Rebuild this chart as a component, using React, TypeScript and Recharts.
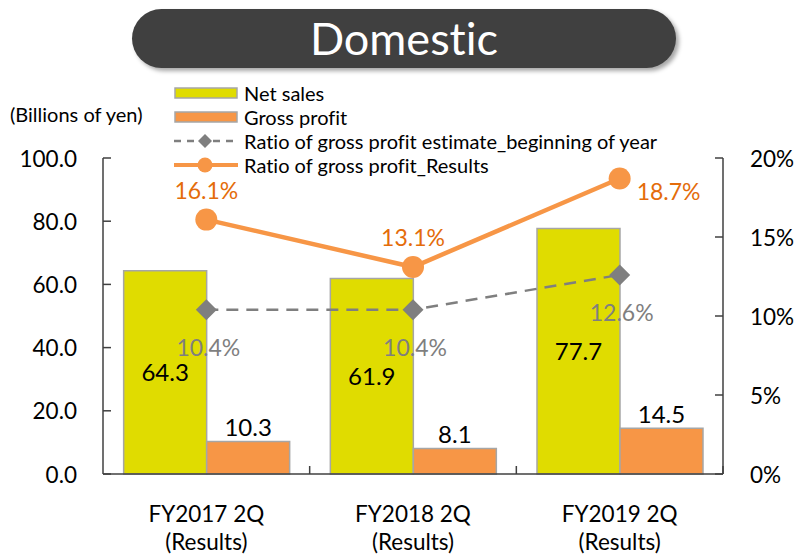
import { ComposedChart, Bar, Line, XAxis, YAxis, Legend, LabelList } from 'recharts';

const categories = ['FY2017 2Q', 'FY2018 2Q', 'FY2019 2Q'];
const categorySub = ['(Results)', '(Results)', '(Results)'];
const netSales = [64.3, 61.9, 77.7];
const grossProfit = [10.3, 8.1, 14.5];
const ratioEstimate = [10.4, 10.4, 12.6];
const ratioResults = [16.1, 13.1, 18.7];
const leftTicks = [0, 20, 40, 60, 80, 100];
const rightTicks = [0, 5, 10, 15, 20];

const data = categories.map((name, i) => ({
  name,
  sub: categorySub[i],
  netSales: netSales[i],
  grossProfit: grossProfit[i],
  ratioEstimate: ratioEstimate[i],
  ratioResults: ratioResults[i],
}));

const YELLOW = '#E0DC00';
const ORANGE = '#F79646';
const ORANGE_TEXT = '#E46C0A';
const GRAY = '#7F7F7F';
const AXIS = '#404040';

const W = 797;
const H = 554;
const PLOT_LEFT = 103;
const PLOT_RIGHT = 723;
const PLOT_TOP = 158;
const PLOT_BOTTOM = 474;
const BAND = (PLOT_RIGHT - PLOT_LEFT) / categories.length;

const LeftTick = ({ y, payload }: any) => (
  <g>
    <line x1={PLOT_LEFT} x2={PLOT_LEFT + 8} y1={y} y2={y} stroke={AXIS} strokeWidth={1.5} />
    <text x={77} y={y} textAnchor="end" dominantBaseline="central" fontSize={22.5} fill="#000">
      {Number(payload.value).toFixed(1)}
    </text>
  </g>
);

const RightTick = ({ y, payload }: any) => (
  <g>
    <line x1={PLOT_RIGHT - 8} x2={PLOT_RIGHT} y1={y} y2={y} stroke={AXIS} strokeWidth={1.5} />
    <text x={750} y={y} textAnchor="start" dominantBaseline="central" fontSize={22.5} fill="#000">
      {payload.value}%
    </text>
  </g>
);

const CategoryTick = ({ x, payload, index }: any) => (
  <g>
    <line x1={x + BAND / 2} x2={x + BAND / 2} y1={PLOT_BOTTOM} y2={PLOT_BOTTOM - 8} stroke={AXIS} strokeWidth={1.5} />
    <text x={x} y={513} textAnchor="middle" dominantBaseline="central" fontSize={22.5} fill="#000">
      {payload.value}
    </text>
    <text x={x} y={541} textAnchor="middle" dominantBaseline="central" fontSize={22.5} fill="#000">
      {categorySub[index]}
    </text>
  </g>
);

const Diamond = ({ cx, cy }: any) => {
  if (cx == null || cy == null) return null;
  const r = 10.5;
  return <path d={`M${cx},${cy - r}L${cx + r},${cy}L${cx},${cy + r}L${cx - r},${cy}Z`} fill={GRAY} />;
};

const ResultLabel = ({ x, y, value, index }: any) => {
  if (index === data.length - 1) {
    return (
      <text x={x + 17} y={y + 12} textAnchor="start" dominantBaseline="central" fontSize={23} fill={ORANGE_TEXT}>
        {Number(value).toFixed(1)}%
      </text>
    );
  }
  return (
    <text x={x} y={y - 30} textAnchor="middle" dominantBaseline="central" fontSize={23} fill={ORANGE_TEXT}>
      {Number(value).toFixed(1)}%
    </text>
  );
};

const EstimateLabel = ({ x, y, value }: any) => (
  <text x={x + 2} y={y + 37} textAnchor="middle" dominantBaseline="central" fontSize={23} fill={GRAY}>
    {Number(value).toFixed(1)}%
  </text>
);

const legendItems = [
  { key: 'bar', color: YELLOW, label: 'Net sales' },
  { key: 'bar', color: ORANGE, label: 'Gross profit' },
  { key: 'dash', color: GRAY, label: 'Ratio of gross profit estimate_beginning of year' },
  { key: 'line', color: ORANGE, label: 'Ratio of gross profit_Results' },
];

const LegendContent = () => (
  <div style={{ fontSize: 20, color: '#000', lineHeight: '24px' }}>
    {legendItems.map((item, i) => (
      <div key={i} style={{ display: 'flex', alignItems: 'center', height: 24 }}>
        <svg width={66} height={24} style={{ marginRight: 4 }}>
          {item.key === 'bar' && (
            <rect x={1} y={7} width={62} height={10} fill={item.color} stroke="#A6A6A6" strokeWidth={1.5} />
          )}
          {item.key === 'dash' && (
            <g>
              <line x1={0} x2={62} y1={12} y2={12} stroke={item.color} strokeWidth={2.5} strokeDasharray="7 6" />
              <path d="M31,5L38,12L31,19L24,12Z" fill={item.color} />
            </g>
          )}
          {item.key === 'line' && (
            <g>
              <line x1={0} x2={64} y1={12} y2={12} stroke={item.color} strokeWidth={4} />
              <circle cx={31} cy={12} r={7.5} fill={item.color} />
            </g>
          )}
        </svg>
        <span>{item.label}</span>
      </div>
    ))}
  </div>
);

export default function App() {
  return (
    <div
      style={{
        position: 'absolute',
        left: 0,
        top: 0,
        width: W,
        height: H,
        background: '#fff',
        fontFamily: 'Lato, "Noto Sans", sans-serif',
        fontVariantLigatures: 'none',
      }}
    >
      <div
        style={{
          position: 'absolute',
          left: 132,
          top: 9,
          width: 544,
          height: 59,
          borderRadius: 30,
          background: '#404040',
          boxShadow: '3px 3px 4px rgba(0,0,0,0.35)',
          color: '#fff',
          fontSize: 45,
          lineHeight: '59px',
          textAlign: 'center',
        }}
      >
        Domestic
      </div>
      <div style={{ position: 'absolute', left: 10, top: 102, fontSize: 20, color: '#000' }}>
        (Billions of yen)
      </div>
      <ComposedChart
        width={W}
        height={H}
        data={data}
        margin={{ top: PLOT_TOP, right: 0, bottom: 0, left: 0 }}
        barCategoryGap="10%"
        barGap={0}
      >
        <XAxis
          dataKey="name"
          xAxisId={0}
          height={H - PLOT_BOTTOM}
          axisLine={{ stroke: AXIS, strokeWidth: 1.5 }}
          tickLine={false}
          tick={<CategoryTick />}
          interval={0}
        />
        <YAxis
          yAxisId="left"
          orientation="left"
          width={PLOT_LEFT}
          domain={[0, 100]}
          ticks={leftTicks}
          axisLine={{ stroke: AXIS, strokeWidth: 1.5 }}
          tickLine={false}
          tick={<LeftTick />}
        />
        <YAxis
          yAxisId="right"
          orientation="right"
          width={W - PLOT_RIGHT}
          domain={[0, 20]}
          ticks={rightTicks}
          axisLine={{ stroke: AXIS, strokeWidth: 1.5 }}
          tickLine={false}
          tick={<RightTick />}
        />
        <Legend
          layout="vertical"
          align="center"
          verticalAlign="middle"
          content={<LegendContent />}
          wrapperStyle={{ left: 174, top: 81, width: 560 }}
        />
        <Bar
          yAxisId="left"
          dataKey="netSales"
          name="Net sales"
          fill={YELLOW}
          stroke="#A6A6A6"
          strokeWidth={1.5}
          isAnimationActive={false}
        >
          <LabelList dataKey="netSales" position="center" fontSize={24} fill="#000" formatter={(v: any) => Number(v).toFixed(1)} />
        </Bar>
        <Bar
          yAxisId="left"
          dataKey="grossProfit"
          name="Gross profit"
          fill={ORANGE}
          stroke="#A6A6A6"
          strokeWidth={1.5}
          isAnimationActive={false}
        >
          <LabelList dataKey="grossProfit" position="top" offset={5} fontSize={24} fill="#000" formatter={(v: any) => Number(v).toFixed(1)} />
        </Bar>
        <Line
          yAxisId="right"
          dataKey="ratioEstimate"
          name="Ratio of gross profit estimate_beginning of year"
          stroke={GRAY}
          strokeWidth={2.5}
          strokeDasharray="12 8"
          dot={<Diamond />}
          activeDot={false}
          isAnimationActive={false}
        >
          <LabelList dataKey="ratioEstimate" content={<EstimateLabel />} />
        </Line>
        <Line
          yAxisId="right"
          dataKey="ratioResults"
          name="Ratio of gross profit_Results"
          stroke={ORANGE}
          strokeWidth={4.5}
          dot={{ r: 11, fill: ORANGE, stroke: 'none' }}
          activeDot={false}
          isAnimationActive={false}
        >
          <LabelList dataKey="ratioResults" content={<ResultLabel />} />
        </Line>
      </ComposedChart>
    </div>
  );
}
